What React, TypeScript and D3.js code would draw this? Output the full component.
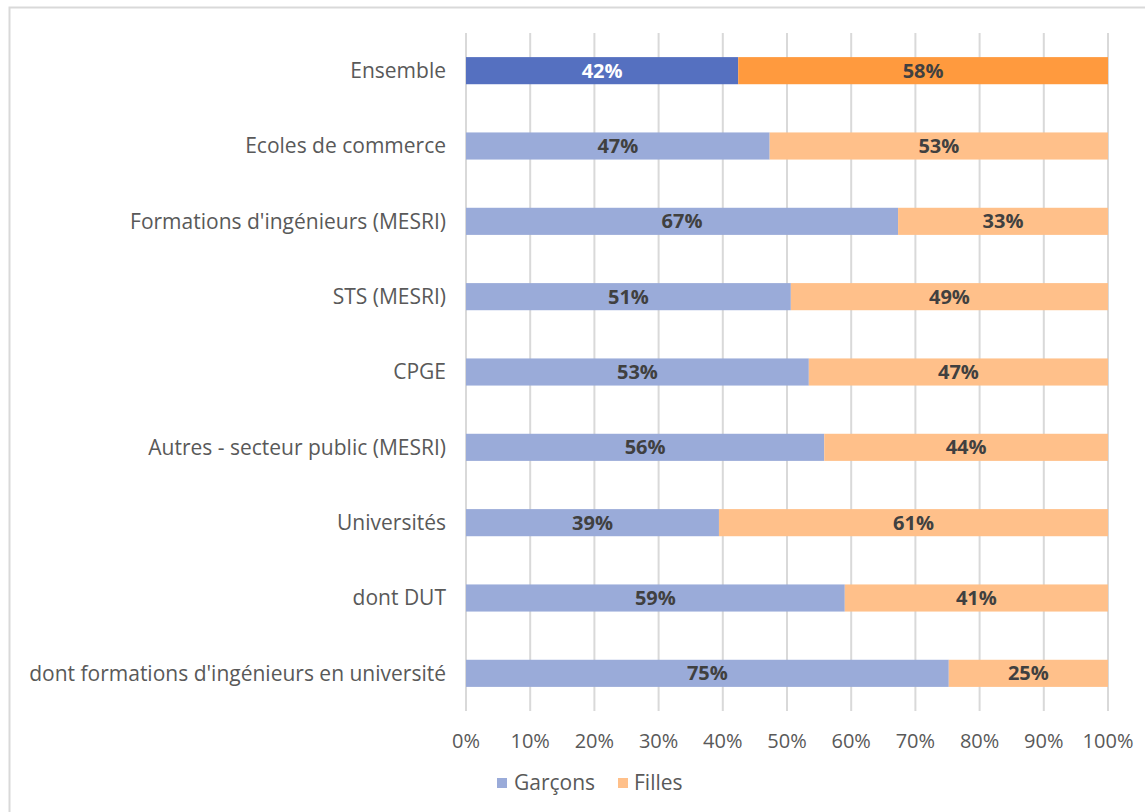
import React from "react";
import * as d3 from "d3";

const categories = [
  "Ensemble",
  "Ecoles de commerce",
  "Formations d'ingénieurs (MESRI)",
  "STS (MESRI)",
  "CPGE",
  "Autres - secteur public (MESRI)",
  "Universités",
  "dont DUT",
  "dont formations d'ingénieurs en université",
];
const garcons = [42.4, 47.3, 67.3, 50.6, 53.4, 55.8, 39.4, 59.0, 75.2];
const filles = garcons.map((g) => 100 - g);
const ticks = [0, 10, 20, 30, 40, 50, 60, 70, 80, 90, 100];
const seriesNames = ["Garçons", "Filles"];

const W = 1145;
const H = 812;
const FONT = "'Open Sans', sans-serif";

export default function App() {
  const x = d3.scaleLinear().domain([0, 100]).range([466, 1108]);
  const y = d3
    .scaleBand<string>()
    .domain(categories)
    .range([33, 711])
    .paddingInner(0.64)
    .paddingOuter(0.32);
  const bw = y.bandwidth();

  return (
    <svg
      width={W}
      height={H}
      style={{ position: "absolute", left: 0, top: 0, background: "#fff" }}
      fontFamily={FONT}
    >
      <rect x={9.5} y={7.5} width={1200} height={900} fill="#fff" stroke="#d9d9d9" strokeWidth={2} />
      {ticks.map((t) => (
        <line key={t} x1={x(t)} x2={x(t)} y1={33} y2={711} stroke="#d9d9d9" strokeWidth={2} />
      ))}
      {categories.map((c, i) => {
        const yy = y(c)!;
        const first = i === 0;
        const cG = first ? "#5570C0" : "#9AABD9";
        const cF = first ? "#FF9A3E" : "#FFC08A";
        const g = garcons[i];
        const f = filles[i];
        return (
          <g key={c}>
            <rect x={x(0)} y={yy} width={x(g) - x(0)} height={bw} fill={cG} />
            <rect x={x(g)} y={yy} width={x(100) - x(g)} height={bw} fill={cF} />
            <text
              x={(x(0) + x(g)) / 2}
              y={yy + bw / 2}
              dy="0.35em"
              textAnchor="middle"
              fontSize={20}
              fontWeight="bold"
              fill={first ? "#ffffff" : "#404040"}
            >
              {Math.round(g)}%
            </text>
            <text
              x={(x(g) + x(100)) / 2}
              y={yy + bw / 2}
              dy="0.35em"
              textAnchor="middle"
              fontSize={20}
              fontWeight="bold"
              fill="#404040"
            >
              {Math.round(f)}%
            </text>
            <text
              x={446}
              y={yy + bw / 2}
              dy="0.35em"
              textAnchor="end"
              fontSize={21}
              fill="#595959"
            >
              {c}
            </text>
          </g>
        );
      })}
      {ticks.map((t) => (
        <text key={t} x={x(t)} y={741} dy="0.35em" textAnchor="middle" fontSize={20} fill="#595959">
          {t}%
        </text>
      ))}
      <rect x={497} y={778} width={10} height={10} fill="#9AABD9" />
      <text x={514} y={783} dy="0.35em" fontSize={21} fill="#595959">
        {seriesNames[0]}
      </text>
      <rect x={618} y={778} width={10} height={10} fill="#FFC08A" />
      <text x={634} y={783} dy="0.35em" fontSize={21} fill="#595959">
        {seriesNames[1]}
      </text>
    </svg>
  );
}
